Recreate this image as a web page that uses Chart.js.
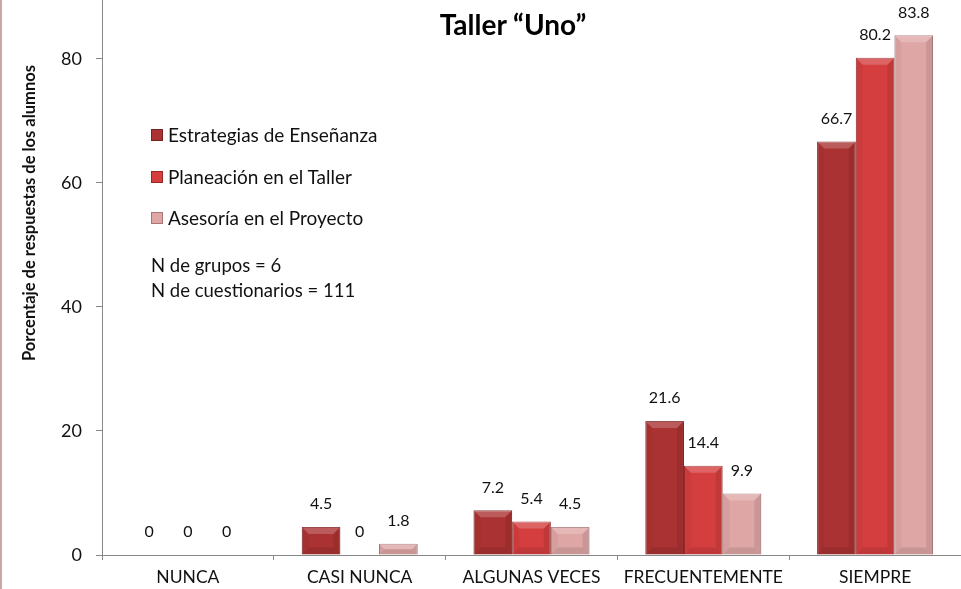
<!DOCTYPE html>
<html>
<head>
<meta charset="utf-8">
<script src="https://cdn.jsdelivr.net/npm/chart.js@4/dist/chart.umd.min.js"></script>
<style>
  html, body { margin: 0; padding: 0; background: #fff; }
  #wrap { position: relative; width: 961px; height: 589px; overflow: hidden; }
  #c { position: absolute; left: 0; top: 0; }
  #edge { position: absolute; left: 0; top: 0; width: 2px; height: 589px; background: #c9a7a7; }
  #title { position: absolute; left: 363px; width: 300px; top: 7px; text-align: center; line-height: 34px;
           font: bold 28px Lato, "Open Sans", sans-serif; color: #000; }
  #ytitle { position: absolute; left: 30px; top: 213px; width: 400px; margin-left: -200px; margin-top: -11px;
            height: 22px; line-height: 22px; text-align: center; transform: rotate(-90deg);
            font: bold 16.5px Lato, "Open Sans", sans-serif; color: #111; white-space: nowrap; }
  #legend { position: absolute; left: 151px; top: 122px; font: 19px Lato, "Open Sans", sans-serif; color: #111; }
  .item { height: 41.5px; line-height: 26px; display: flex; align-items: flex-start; }
  .sw { width: 12px; height: 12px; margin-right: 5px; margin-top: 7px; box-sizing: border-box; }
  #notes { position: absolute; left: 151px; top: 253px; font: 18.5px Lato, "Open Sans", sans-serif; color: #111; line-height: 25px; }
</style>
</head>
<body>
<div id="wrap">
  <canvas id="c" width="961" height="589"></canvas>
  <div id="edge"></div>
  <div id="title">Taller “Uno”</div>
  <div id="ytitle">Porcentaje de respuestas de los alumnos</div>
  <div id="legend"></div>
  <div id="notes"></div>
</div>
<script>
const categories = ["NUNCA", "CASI NUNCA", "ALGUNAS VECES", "FRECUENTEMENTE", "SIEMPRE"];
const seriesNames = ["Estrategias de Enseñanza", "Planeación en el Taller", "Asesoría en el Proyecto"];
const estrategias = [0, 4.5, 7.2, 21.6, 66.7];
const planeacion = [0, 0, 5.4, 14.4, 80.2];
const asesoria = [0, 1.8, 4.5, 9.9, 83.8];
const seriesColors = ["#ab3232", "#d53e3f", "#dfa6a6"];
const seriesBorders = ["#7a2020", "#9a2626", "#a87676"];
const notes = ["N de grupos = 6", "N de cuestionarios = 111"];
const yTicks = [0, 20, 40, 60, 80];

const allSeries = [estrategias, planeacion, asesoria];

const lg = document.getElementById('legend');
seriesNames.forEach((n, i) => {
  const d = document.createElement('div'); d.className = 'item';
  const s = document.createElement('span'); s.className = 'sw';
  s.style.background = seriesColors[i]; s.style.border = '1px solid ' + seriesBorders[i];
  const t = document.createElement('span'); t.textContent = n;
  d.appendChild(s); d.appendChild(t); lg.appendChild(d);
});
const nt = document.getElementById('notes');
notes.forEach(n => { const d = document.createElement('div'); d.textContent = n; nt.appendChild(d); });

// subtle bevel shading on each bar, using the bar geometry computed by Chart.js
const bevelPlugin = {
  id: 'bevel',
  afterDatasetsDraw(chart) {
    const ctx = chart.ctx;
    ctx.save();
    chart.data.datasets.forEach((ds, di) => {
      chart.getDatasetMeta(di).data.forEach(el => {
        const p = el.getProps(['x', 'y', 'base', 'width'], true);
        const h = p.base - p.y;
        if (h < 1) return;
        const l = p.x - p.width / 2, r = p.x + p.width / 2, t = p.y, b = p.base;
        const e = Math.min(7, h / 2, p.width / 5);
        const poly = (pts, c) => { ctx.beginPath(); ctx.moveTo(pts[0][0], pts[0][1]);
          pts.slice(1).forEach(q => ctx.lineTo(q[0], q[1])); ctx.closePath(); ctx.fillStyle = c; ctx.fill(); };
        poly([[l, t], [r, t], [r - e, t + e], [l + e, t + e]], 'rgba(255,255,255,0.2)');
        poly([[l, t], [l + e, t + e], [l + e, b - e], [l, b]], 'rgba(0,0,0,0.04)');
        poly([[r, t], [r - e, t + e], [r - e, b - e], [r, b]], 'rgba(0,0,0,0.09)');
        poly([[l, b], [l + e, b - e], [r - e, b - e], [r, b]], 'rgba(0,0,0,0.1)');
      });
    });
    ctx.restore();
  }
};

const labelPlugin = {
  id: 'barLabels',
  afterDatasetsDraw(chart) {
    const ctx = chart.ctx;
    ctx.save();
    ctx.font = '16px Lato, "Open Sans", sans-serif';
    ctx.fillStyle = '#111';
    ctx.textAlign = 'center';
    ctx.textBaseline = 'middle';
    chart.data.datasets.forEach((ds, di) => {
      const meta = chart.getDatasetMeta(di);
      meta.data.forEach((el, i) => {
        ctx.fillText(String(ds.data[i]), el.x, el.y - 23);
      });
    });
    ctx.restore();
  }
};

new Chart(document.getElementById('c'), {
  type: 'bar',
  data: {
    labels: categories,
    datasets: allSeries.map((arr, i) => ({
      label: seriesNames[i],
      data: arr,
      backgroundColor: seriesColors[i],
      borderColor: seriesBorders[i],
      borderWidth: 1,
      barPercentage: 1.0,
      categoryPercentage: 0.675
    }))
  },
  options: {
    responsive: false,
    animation: false,
    layout: { padding: 0 },
    plugins: { legend: { display: false }, title: { display: false }, tooltip: { enabled: false } },
    scales: {
      x: {
        grid: { offset: true, drawOnChartArea: false, tickLength: 5, color: '#888' },
        border: { color: '#888', width: 1 },
        ticks: { color: '#111', font: { family: 'Lato, "Open Sans", sans-serif', size: 17.5 }, padding: 7, maxRotation: 0 },
        afterFit: s => { s.height = 34; s.paddingLeft = 0; s.paddingRight = 0; }
      },
      y: {
        min: 0, max: 89.5,
        afterBuildTicks: s => { s.ticks = yTicks.map(v => ({ value: v })); },
        grid: { drawOnChartArea: false, tickLength: 6, color: '#888' },
        border: { color: '#888', width: 1 },
        ticks: { color: '#111', font: { family: 'Lato, "Open Sans", sans-serif', size: 18 }, padding: 14 },
        afterFit: s => { s.width = 102; s.paddingTop = 0; s.paddingBottom = 0; }
      }
    }
  },
  plugins: [bevelPlugin, labelPlugin]
});
</script>
</body>
</html>
